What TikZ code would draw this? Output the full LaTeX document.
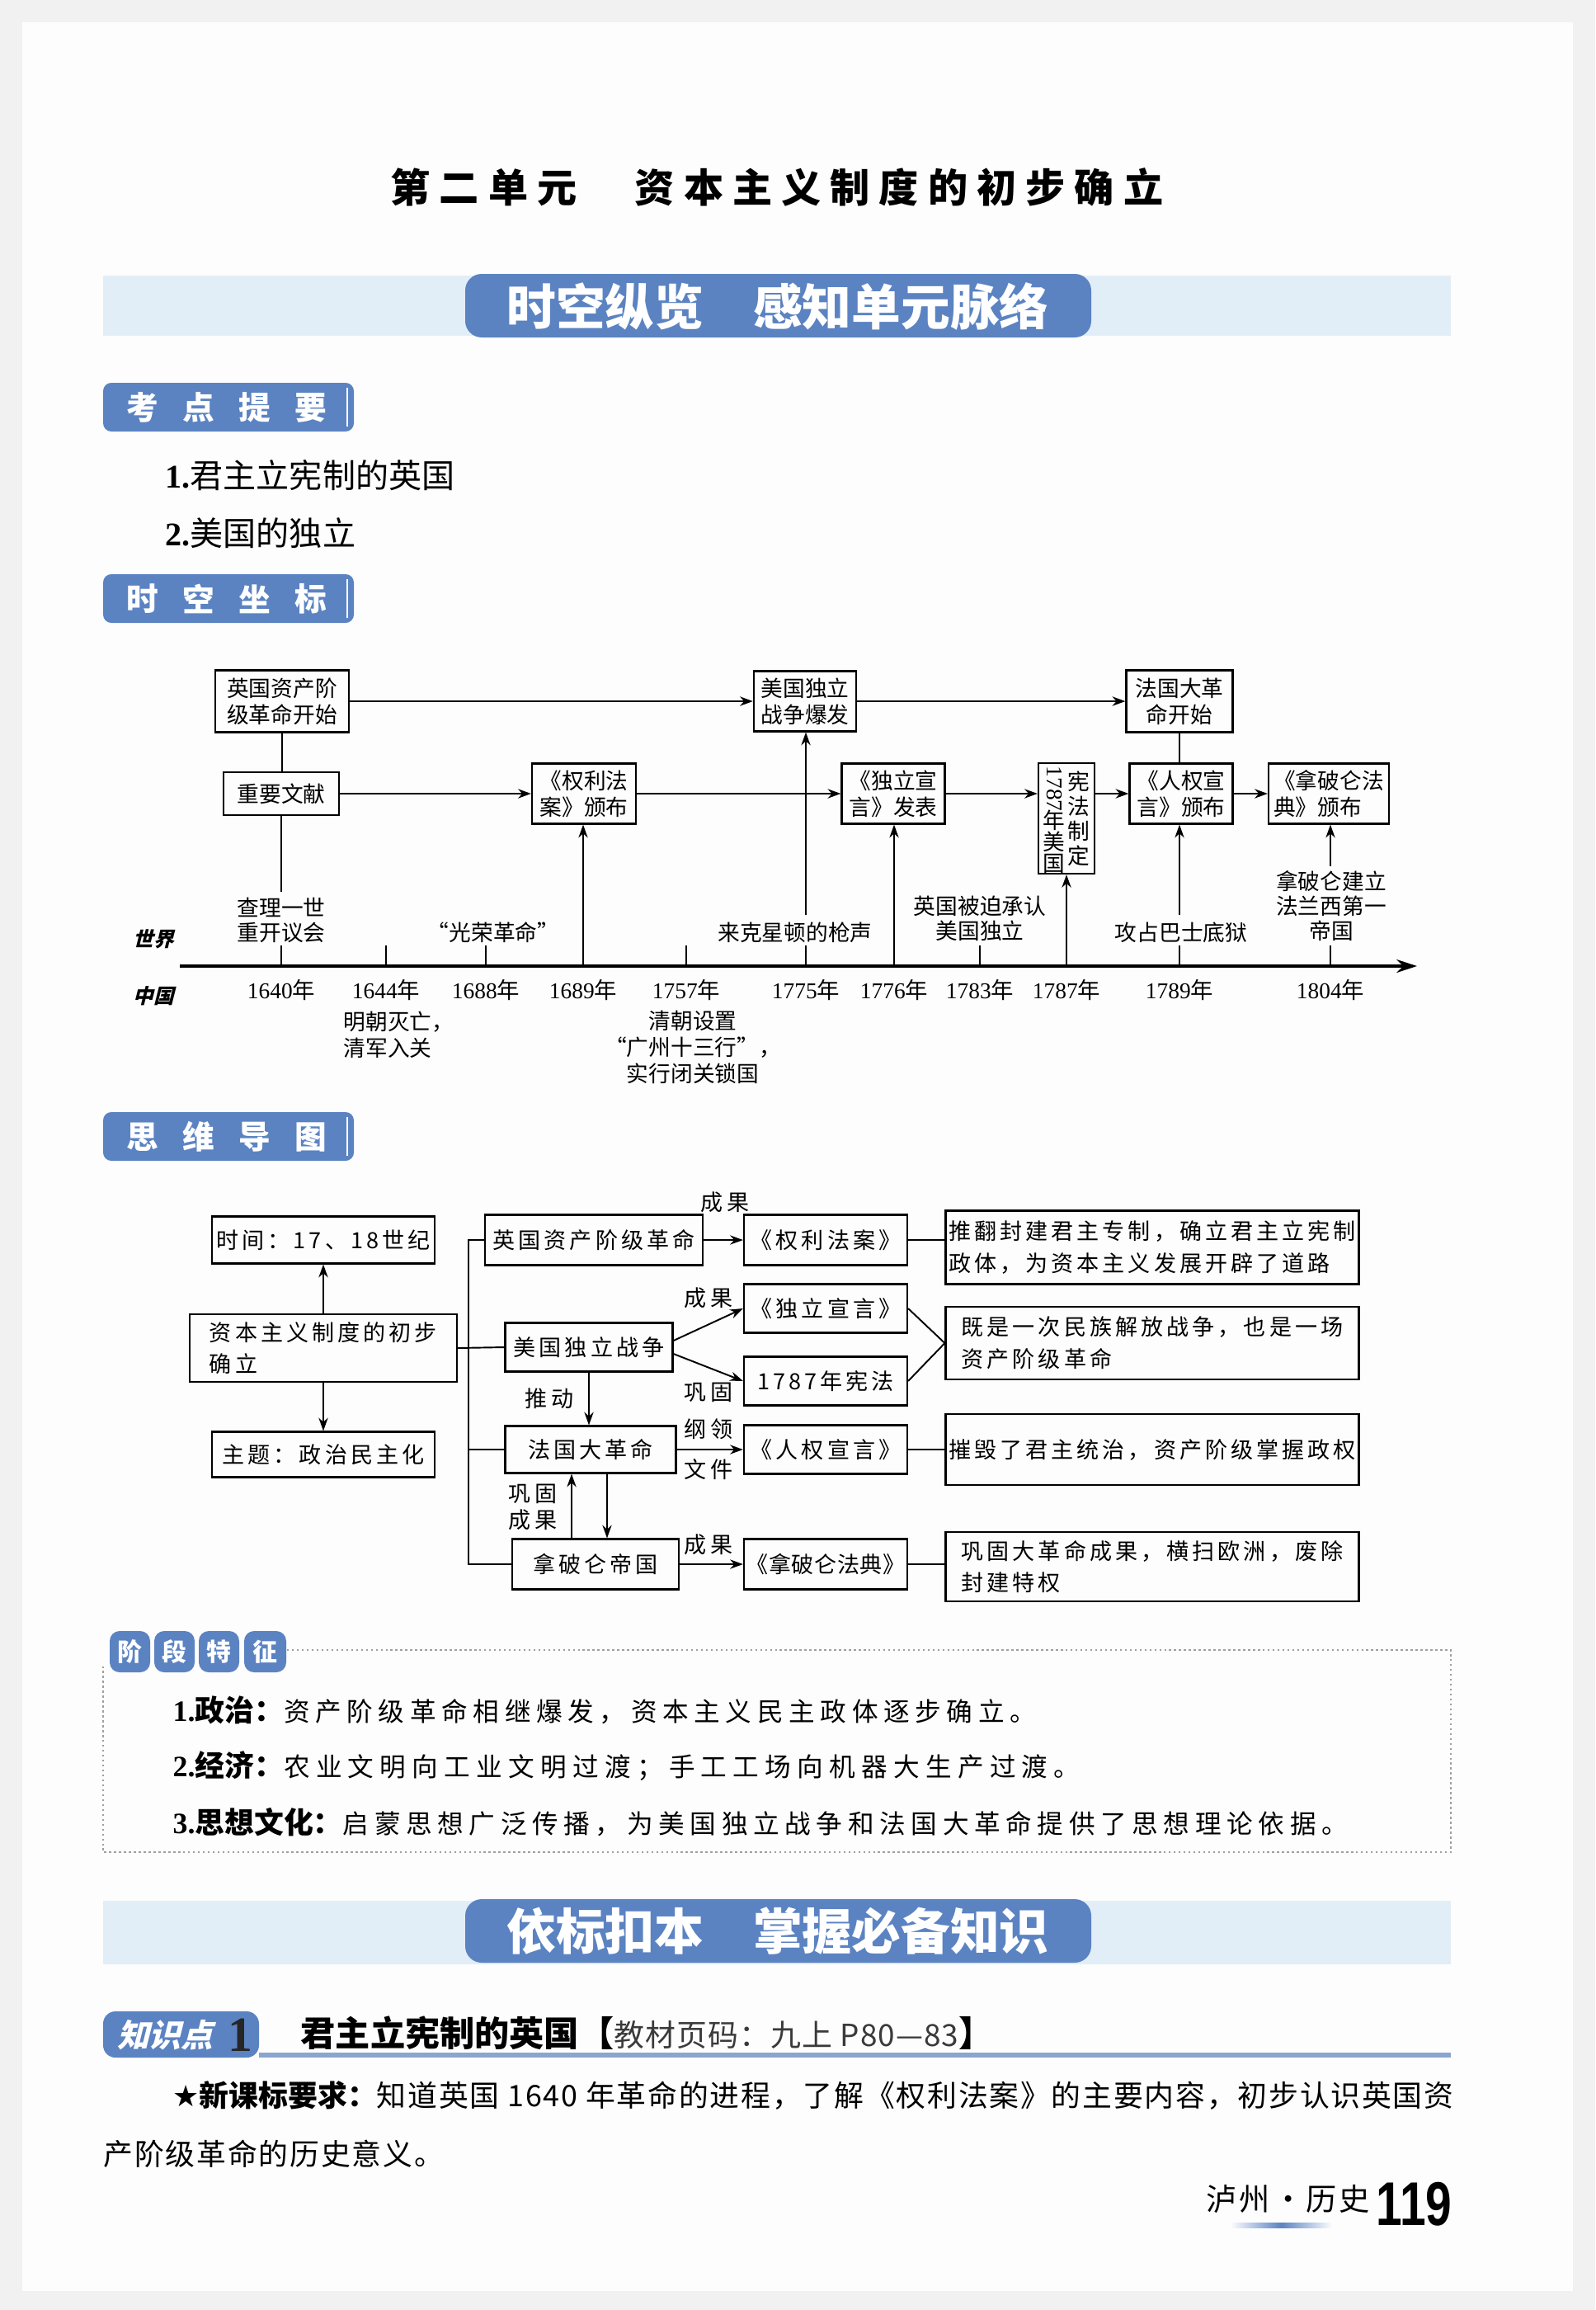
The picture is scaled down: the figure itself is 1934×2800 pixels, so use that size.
\documentclass[tikz,border=0pt]{standalone}
\usepackage{fontspec}
\usepackage{graphicx}
\setmainfont{Liberation Serif}
\newfontfamily\cjk{Noto Sans CJK SC}
\newfontfamily\cjksl{Noto Sans CJK SC}[FakeSlant=0.25]
\newfontfamily\sansf{Liberation Sans}
\newfontfamily\dejavu{DejaVu Sans}
\usetikzlibrary{arrows.meta,calc}
\definecolor{tabblue}{HTML}{5B83C2}
\definecolor{bandblue}{HTML}{E2EEF7}
\definecolor{pagegray}{HTML}{F1F1F1}
\definecolor{pagewhite}{HTML}{FDFDFD}
\definecolor{txtgray}{HTML}{3A3A3A}
\definecolor{lineblue}{HTML}{8AA6CF}
\newcommand\ls[1]{\addfontfeature{LetterSpace=#1}}
\newcommand\fs[2]{\fontsize{#1}{#2}\selectfont}
\newcommand\yr[1]{#1{\cjk 年}}
\tikzset{
 tl/.style={draw, line width=0.6pt, inner sep=0pt, font=\cjk\fs{7.6}{9.1}},
 tlab/.style={inner sep=0pt, align=center, font=\cjk\fs{7.6}{8.5}},
 yr/.style={inner sep=0pt, font=\rmfamily\fs{7.8}{9}},
 mm/.style={draw, line width=0.6pt, inner sep=0pt, font=\cjk\fs{7.7}{11}\ls{15}},
 mlab/.style={inner sep=0pt, align=center, font=\cjk\fs{7.7}{9.1}\ls{15}},
 arr/.style={-{Stealth[length=4.5pt,width=3.2pt]}, line width=0.55pt},
 lnw/.style={line width=0.55pt},
 wh/.style 2 args={minimum width=#1*0.1mm, minimum height=#2*0.1mm},
 tabtxt/.style={inner sep=0pt, text=white, font=\cjk\bfseries\fs{11}{11}},
 sqtxt/.style={inner sep=0pt, text=white, font=\cjk\bfseries\fs{8.5}{9}},
 bantxt/.style={inner sep=0pt, text=white, font=\cjk\bfseries\fs{17}{17}},
}
\begin{document}
\begin{tikzpicture}[x=0.1mm,y=-0.1mm]
\useasboundingbox (0,0) rectangle (1934,2800);
\fill[pagegray] (0,0) rectangle (1934,2800);
\fill[pagewhite] (27,27) rectangle (1907,2777);

% title
\node[inner sep=0pt, font=\cjk\bfseries\fs{13.7}{14}\ls{23}] (title) at (942,227) {第二单元　资本主义制度的初步确立};

% banner 1
\fill[bandblue] (125,334) rectangle (1759,407);
\fill[tabblue, rounded corners=2mm] (564,332) rectangle (1323,409);
\node[bantxt] (ban1) at (943,371) {时空纵览　感知单元脉络};

% tab kaodian
\fill[tabblue, rounded corners=1mm] (125,464) rectangle (429,523);
\draw[white, line width=0.8pt] (421,470) -- (421,517);
\node[tabtxt] (k1a) at (173,494) {考};
\node[tabtxt] (k1b) at (241,494) {点};
\node[tabtxt] (k1c) at (309,494) {提};
\node[tabtxt] (k1d) at (377,494) {要};
\node[anchor=west, inner sep=0pt, font=\cjk\fs{11.4}{12}] (item1) at (200,576) {{\rmfamily\bfseries 1.}君主立宪制的英国};
\node[anchor=west, inner sep=0pt, font=\cjk\fs{11.4}{12}] (item2) at (200,646) {{\rmfamily\bfseries 2.}美国的独立};

% tab shikong
\fill[tabblue, rounded corners=1mm] (125,696) rectangle (429,755);
\draw[white, line width=0.8pt] (421,702) -- (421,749);
\node[tabtxt] (k2a) at (173,726) {时};
\node[tabtxt] (k2b) at (241,726) {空};
\node[tabtxt] (k2c) at (309,726) {坐};
\node[tabtxt] (k2d) at (377,726) {标};

% timeline boxes
\node[tl, wh={162}{75}, align=left] (A1) at (342,850) {英国资产阶\\级革命开始};
\node[tl, wh={124}{73}, align=left] (A2) at (976,850) {美国独立\\战争爆发};
\node[tl, wh={129}{75}, align=center] (A3) at (1430,850) {法国大革\\命开始};
\node[tl, wh={140}{52}] (B1) at (341,962) {重要文献};
\node[tl, wh={126}{73}, align=left] (B2) at (708,962) {《权利法\\案》颁布};
\node[tl, wh={125}{73}, align=left] (B3) at (1083,962) {《独立宣\\言》发表};
\node[tl, wh={68}{134}] (B4) at (1293,992) {};
\node[tl, wh={125}{73}, align=left] (B5) at (1432,962) {《人权宣\\言》颁布};
\node[tl, wh={146}{73}, align=left] (B6) at (1611,962) {《拿破仑法\\典》颁布};
\node[tlab] (B4r) at (1308,992) {宪\\法\\制\\定};
\node[inner sep=0pt, rotate=-90, font=\rmfamily\fs{7.8}{8}] (B4n) at (1278,956) {1787};
\node[tlab, font=\cjk\fs{7.6}{7.4}] (B4l) at (1278,1020) {年\\美\\国};

\draw[arr, line width=0.8pt] (A1) -- (A2);
\draw[arr, line width=0.8pt] (A2) -- (A3);
\draw[arr, line width=0.8pt] (B1) -- (B2);
\draw[arr, line width=0.8pt] (B2) -- (B3);
\draw[arr, line width=0.8pt] (B3.east) -- (B3.east -| B4.west);
\draw[arr, line width=0.8pt] (B4.east |- B5.west) -- (B5.west);
\draw[arr, line width=0.8pt] (B5) -- (B6);
\draw[lnw] (A1.south) -- (A1.south |- B1.north);
\draw[lnw] (A3.south) -- (A3.south |- B5.north);

% axis
\coordinate (ax0) at (218,1171);
\coordinate (ax1) at (1718,1171);
\draw[line width=1.3pt, -{Stealth[length=7pt,width=4.5pt]}] (ax0) -- (ax1);
\foreach \n/\x in {1640/341,1644/468,1688/589,1689/707,1757/832,1775/977,1776/1084,1783/1188,1787/1293,1789/1430,1804/1613}{
  \coordinate (t\n) at (\x,1171);
  \draw[lnw] (t\n) -- ++(0,-25);
  \node[yr] (y\n) at (\x,1200) {\yr{\n}};
}

% world labels
\node[tlab] (wCha) at (341,1115) {查理一世\\重开议会};
\node[tlab] (wGlo) at (598,1130) {“光荣革命”};
\node[tlab] (wLex) at (964,1130) {来克星顿的枪声};
\node[tlab] (wBri) at (1188,1113) {英国被迫承认\\美国独立};
\node[tlab] (wBas) at (1432,1130) {攻占巴士底狱};
\node[tlab] (wNap) at (1614,1098) {拿破仑建立\\法兰西第一\\帝国};

\draw[lnw] (B1.south) -- ($(B1.south |- wCha.north)+(0,-6)$);
\draw[arr] (t1689) -- (t1689 |- B2.south);
\draw[arr] ($(t1775 |- wLex.north)+(0,-8)$) -- (t1775 |- A2.south);
\draw[arr] (t1776) -- (t1776 |- B3.south);
\draw[arr] (t1787) -- (t1787 |- B4.south);
\draw[arr] ($(t1789 |- wBas.north)+(0,-8)$) -- (t1789 |- B5.south);
\draw[arr] ($(t1804 |- wNap.north)+(0,-5)$) -- (t1804 |- B6.south);

% china labels
\node[tlab, align=left, anchor=west, font=\cjk\fs{7.6}{9.1}] (cMing) at (416,1254) {明朝灭亡，\\清军入关};
\node[tlab, font=\cjk\fs{7.6}{9.1}] (cQing) at (840,1269) {清朝设置\\“广州十三行”，\\实行闭关锁国};
\node[inner sep=0pt, font=\cjksl\bfseries\fs{7}{7}] (shijie) at (186,1138) {世界};
\node[inner sep=0pt, font=\cjksl\bfseries\fs{7}{7}] (zhongguo) at (186,1207) {中国};

% tab siwei
\fill[tabblue, rounded corners=1mm] (125,1348) rectangle (429,1407);
\draw[white, line width=0.8pt] (421,1354) -- (421,1401);
\node[tabtxt] (k3a) at (173,1378) {思};
\node[tabtxt] (k3b) at (241,1378) {维};
\node[tabtxt] (k3c) at (309,1378) {导};
\node[tabtxt] (k3d) at (377,1378) {图};

% mind map
\node[mm, wh={270}{57}] (Mt) at (392,1503) {时间：17、18世纪};
\node[mm, wh={324}{82}, align=left] (M0) at (392,1634) {资本主义制度的初步\\确立};
\node[mm, wh={270}{55}] (Ms) at (392,1763) {主题：政治民主化};
\node[mm, wh={264}{61}] (E1) at (720,1503) {英国资产阶级革命};
\node[mm, wh={203}{59}] (E2) at (714,1633) {美国独立战争};
\node[mm, wh={207}{57}] (E3) at (716,1757) {法国大革命};
\node[mm, wh={202}{61}] (E4) at (722,1896) {拿破仑帝国};
\node[mm, wh={198}{61}] (R1) at (1001,1503) {《权利法案》};
\node[mm, wh={198}{59}] (R2) at (1001,1586) {《独立宣言》};
\node[mm, wh={198}{59}] (R3) at (1001,1674) {1787年宪法};
\node[mm, wh={198}{59}] (R4) at (1001,1757) {《人权宣言》};
\node[mm, wh={198}{61}] (R5) at (1001,1896) {\ls{2}《拿破仑法典》};
\node[mm, wh={501}{89}, align=left] (S1) at (1397,1512) {推翻封建君主专制，确立君主立宪制\\政体，为资本主义发展开辟了道路};
\node[mm, wh={501}{88}, align=left] (S2) at (1397,1628) {既是一次民族解放战争，也是一场\\资产阶级革命};
\node[mm, wh={501}{86}] (S3) at (1397,1757) {摧毁了君主统治，资产阶级掌握政权};
\node[mm, wh={501}{84}, align=left] (S4) at (1397,1899) {巩固大革命成果，横扫欧洲，废除\\封建特权};

\coordinate (sp) at (568,1503);
\draw[lnw] (E1.west) -- (E1.west -| sp) -- (E4.west -| sp) -- (E4.west);
\draw[lnw] (M0.east) -- (E2.west);
\draw[lnw] (E3.west) -- (E3.west -| sp);
\draw[arr] (M0.north) -- (Mt.south);
\draw[arr] (M0.south) -- (Ms.north);
\draw[arr] (E1) -- (R1);
\draw[arr] ($(E2.east)+(0,-8)$) -- (R2.west);
\draw[arr] ($(E2.east)+(0,8)$) -- (R3.west);
\draw[arr] (E2.south) -- (E2.south |- E3.north);
\draw[arr] (E3) -- (R4);
\coordinate (dn) at ($(E3.south)+(20,0)$);
\draw[arr] (dn) -- (dn |- E4.north);
\coordinate (up) at ($(E4.north)+(-29,0)$);
\draw[arr] (up) -- (up |- E3.south);
\draw[arr] (E4) -- (R5);
\draw[lnw] (R1.east) -- (R1.east -| S1.west);
\draw[lnw] (R2.east) -- (S2.west);
\draw[lnw] (R3.east) -- (S2.west);
\draw[lnw] (R4) -- (S3);
\draw[lnw] (R5.east) -- (R5.east -| S4.west);

\node[mlab] (l1) at (879,1457) {成果};
\node[mlab] (l2) at (859,1573) {成果};
\node[mlab] (l3) at (859,1688) {巩固};
\node[mlab] (l4) at (666,1695) {推动};
\node[mlab] (l5) at (859,1732) {纲领};
\node[mlab] (l6) at (859,1781) {文件};
\node[mlab] (l7) at (646,1827) {巩固\\成果};
\node[mlab] (l8) at (859,1872) {成果};

% stage features
\draw[gray!75, line width=0.6pt, dash pattern=on 0.7pt off 1pt] (348,2000) -- (1759,2000) -- (1759,2245) -- (125,2245) -- (125,2020);
\fill[tabblue, rounded corners=1.2mm] (133,1977) rectangle (182,2027);
\fill[tabblue, rounded corners=1.2mm] (187,1977) rectangle (236,2027);
\fill[tabblue, rounded corners=1.2mm] (241,1977) rectangle (290,2027);
\fill[tabblue, rounded corners=1.2mm] (296,1977) rectangle (347,2027);
\node[sqtxt] (q1) at (157,2002) {阶};
\node[sqtxt] (q2) at (211,2002) {段};
\node[sqtxt] (q3) at (265,2002) {特};
\node[sqtxt] (q4) at (321,2002) {征};
\node[anchor=west, inner sep=0pt, font=\cjk\fs{9}{10}] (p1) at (209,2073) {{\bfseries\fs{10.2}{11}{\rmfamily 1.}政治：}{\ls{21}资产阶级革命相继爆发，资本主义民主政体逐步确立。}};
\node[anchor=west, inner sep=0pt, font=\cjk\fs{9}{10}] (p2) at (209,2141) {{\bfseries\fs{10.2}{11}{\rmfamily 2.}经济：}{\ls{23}农业文明向工业文明过渡；手工工场向机器大生产过渡。}};
\node[anchor=west, inner sep=0pt, font=\cjk\fs{9}{10}] (p3) at (209,2209) {{\bfseries\fs{10.2}{11}{\rmfamily 3.}思想文化：}{\ls{21}启蒙思想广泛传播，为美国独立战争和法国大革命提供了思想理论依据。}};

% banner 2
\fill[bandblue] (125,2304) rectangle (1759,2381);
\fill[tabblue, rounded corners=2mm] (564,2302) rectangle (1323,2379);
\node[bantxt] (ban2) at (943,2341) {依标扣本　掌握必备知识};

% knowledge point 1
\fill[lineblue] (314,2488) rectangle (1759,2494);
\fill[tabblue, rounded corners=1.5mm] (125,2438) rectangle (314,2494);
\node[inner sep=0pt, text=white, font=\cjksl\bfseries\fs{11}{11}] (zsd) at (200,2467) {知识点};
\node[inner sep=0pt, text=black!85, font=\rmfamily\bfseries\fs{17}{17}] (zsd1) at (291,2467) {1};
\node[anchor=west, inner sep=0pt, font=\cjk\fs{12}{12}] (kh) at (364,2464) {{\bfseries 君主立宪制的英国【}{\color{txtgray}\fs{10.5}{11}\ls{3}教材页码：九上 P80—83}{\bfseries 】}};

\node[anchor=west, inner sep=0pt, font=\cjk\fs{10.2}{11}] (xk1) at (209,2540) {{\bfseries{\dejavu ★}新课标要求：}{\ls{5}知道英国 1640 年革命的进程，了解《权利法案》的主要内容，初步认识英国资}};
\node[anchor=west, inner sep=0pt, font=\cjk\fs{10.2}{11}\ls{5}] (xk2) at (125,2611) {产阶级革命的历史意义。};

% footer
\node[anchor=west, inner sep=0pt, font=\cjk\fs{10.6}{11}\ls{8}] (ft) at (1462,2665) {泸州·历史};
\shade[left color=white, right color=white, middle color=tabblue] (1491,2694) rectangle (1616,2700);
\node[anchor=west, inner sep=0pt, font=\sansf\bfseries\fs{21.3}{22}] (pg) at (1668,2672) {\scalebox{0.76}[1]{119}};
\end{tikzpicture}
\end{document}
